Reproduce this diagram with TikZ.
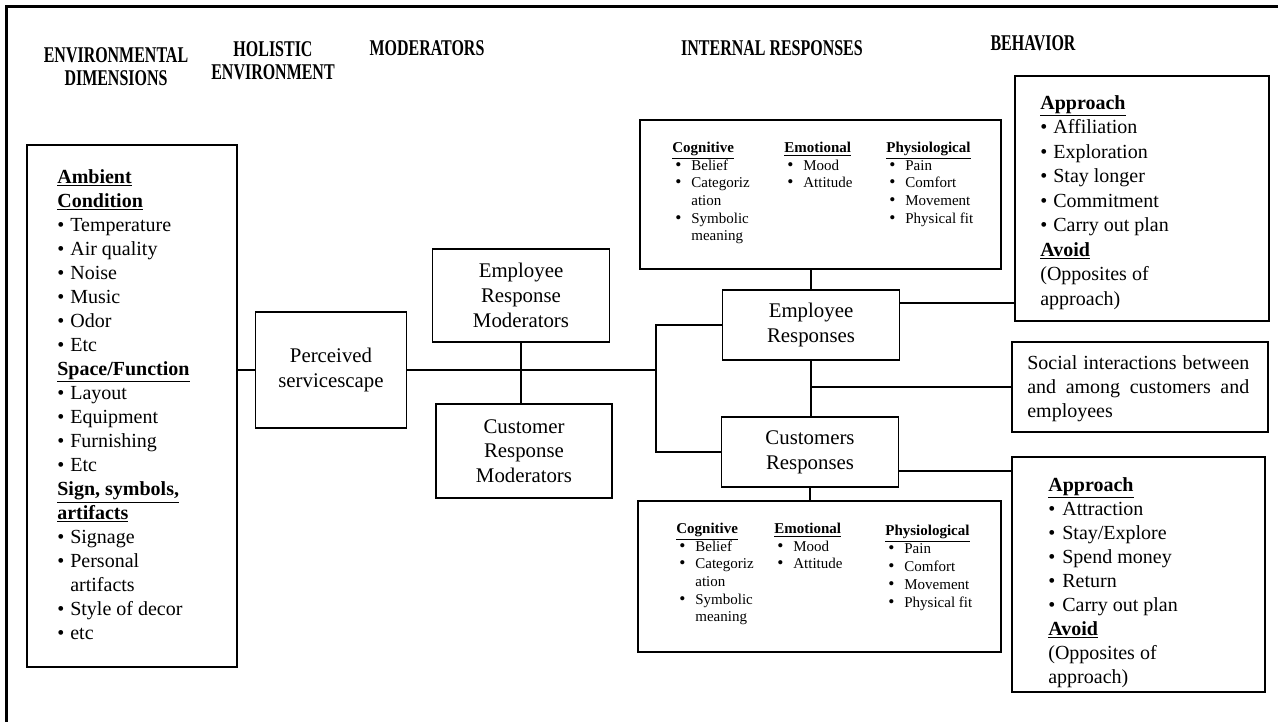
\documentclass[tikz,border=0pt]{standalone}
\usepackage{fontspec}
\setmainfont{Liberation Serif}
\usepackage{graphicx}
\usetikzlibrary{positioning}

\newdimen\px \px=0.6pt
\newcommand{\hd}[1]{\textbf{\underline{#1}}}
\newcommand{\itm}[1][13]{\makebox[#1\px][l]{\textbullet}}
\newcommand{\sitm}{\hspace*{3\px}\makebox[16\px][l]{\fontsize{10.5}{10.5}\selectfont\textbullet}}
\newcommand{\sgap}{\hspace*{19\px}}
\newcommand{\hw}[1]{\scalebox{0.71}[1]{#1}}

\tikzset{box/.style={draw, line width=0.7pt, inner sep=0pt}}
\tikzset{txtbox/.style={box, align=center, font=\fontsize{12.5}{14.8}\selectfont}}
\tikzset{listtxt/.style={anchor=north west, align=left, inner sep=0pt, font=\fontsize{12}{14.4}\selectfont}}
\tikzset{smalltxt/.style={anchor=north west, align=left, inner sep=0pt, font=\fontsize{9}{10.56}\selectfont}}
\tikzset{hdtxt/.style={align=center, inner sep=0pt, font=\fontsize{13.5}{13.8}\selectfont\bfseries}}
\tikzset{link/.style={line width=1.1pt}}
\tikzset{outline/.style={line width=1.8pt}}

\begin{document}
\begin{tikzpicture}[x=0.6pt, y=-0.6pt]

	  \useasboundingbox (0,0) rectangle (1278,722);
	  \draw [outline] (1278,6.5) -- (6.5,6.5) -- (6.5,722);

	  % column titles
	  \node [hdtxt] (tenv) at (116,66.5) {\hw{ENVIRONMENTAL}\\\hw{DIMENSIONS}};
	  \node [hdtxt] (thol) at (273,60.5) {\hw{HOLISTIC}\\\hw{ENVIRONMENT}};
	  \node [hdtxt] (tmod) at (427,48) {\hw{MODERATORS}};
	  \node [hdtxt] (tint) at (772,48) {\hw{INTERNAL RESPONSES}};
	  \node [hdtxt] (tbeh) at (1033,43) {\hw{BEHAVIOR}};

	  % environmental dimensions
	  \node [box, minimum width=210\px, minimum height=522\px] (envbox) at (132,406) {};
	  \node [listtxt] (envlist) at (57,169) {\hd{Ambient}\\ \hd{Condition}\\
	    \itm Temperature\\ \itm Air quality\\ \itm Noise\\ \itm Music\\ \itm Odor\\ \itm Etc\\
	    \hd{Space/Function}\\ \itm Layout\\ \itm Equipment\\ \itm Furnishing\\ \itm Etc\\
	    \hd{Sign, symbols,}\\ \hd{artifacts}\\ \itm Signage\\ \itm Personal\\ \hspace*{13\px}artifacts\\
	    \itm Style of decor\\ \itm etc};

	  % holistic environment and moderators
	  \node [txtbox, minimum width=151\px, minimum height=116\px] (perc) at (331,370) {Perceived\\servicescape};
	  \node [txtbox, minimum width=177\px, minimum height=93\px] (empmod) at (521,295.5) {Employee\\Response\\Moderators};
	  \node [txtbox, minimum width=176\px, minimum height=94\px] (cusmod) at (524,451) {Customer\\Response\\Moderators};

	  % internal responses
	  \node [txtbox, minimum width=177\px, minimum height=70\px] (empresp) at (811,325) {Employee\\Responses};
	  \node [txtbox, minimum width=177\px, minimum height=70\px] (cusresp) at (810,452) {Customers\\Responses};

	  \node [box, minimum width=361\px, minimum height=149\px] (inttop) at (820.5,194.5) {};
	  \node [smalltxt] (cogtop) at (672,142) {\hd{Cognitive}\\ \sitm Belief\\ \sitm Categoriz\\ \sgap ation\\ \sitm Symbolic\\ \sgap meaning};
	  \node [smalltxt] (emotop) at (784,142) {\hd{Emotional}\\ \sitm Mood\\ \sitm Attitude};
	  \node [smalltxt] (phytop) at (886,142) {\hd{Physiological}\\ \sitm Pain\\ \sitm Comfort\\ \sitm Movement\\ \sitm Physical fit};

	  \node [box, minimum width=363\px, minimum height=151\px] (intbot) at (819.5,576.5) {};
	  \node [smalltxt] (cogbot) at (676,523) {\hd{Cognitive}\\ \sitm Belief\\ \sitm Categoriz\\ \sgap ation\\ \sitm Symbolic\\ \sgap meaning};
	  \node [smalltxt] (emobot) at (774,523) {\hd{Emotional}\\ \sitm Mood\\ \sitm Attitude};
	  \node [smalltxt, font=\fontsize{9}{10.8}\selectfont] (phybot) at (885,525) {\hd{Physiological}\\ \sitm Pain\\ \sitm Comfort\\ \sitm Movement\\ \sitm Physical fit};

	  % behavior
	  \node [box, minimum width=254\px, minimum height=245\px] (behtop) at (1142,198.5) {};
	  \node [listtxt, font=\fontsize{12}{14.7}\selectfont] (apptop) at (1040,95) {\hd{Approach}\\
	    \itm Affiliation\\ \itm Exploration\\ \itm Stay longer\\ \itm Commitment\\ \itm Carry out plan\\
	    \hd{Avoid}\\ (Opposites of\\ approach)};

	  \node [box, minimum width=256\px, minimum height=90\px] (social) at (1140,387) {};
	  \node [listtxt, text width=222\px, align=justify] (socialtxt) at (1027,355) {Social interactions between and among customers and employees};

	  \node [box, minimum width=253\px, minimum height=235\px] (behbot) at (1138.5,574.5) {};
	  \node [listtxt] (appbot) at (1048,477) {\hd{Approach}\\
	    \itm[14]Attraction\\ \itm[14]Stay/Explore\\ \itm[14]Spend money\\ \itm[14]Return\\ \itm[14]Carry out plan\\
	    \hd{Avoid}\\ (Opposites of\\ approach)};

	  % connectors
	  \coordinate (split) at (656,370);
	  \draw [link] (perc.west) -- (perc.west -| envbox.east);
	  \draw [link] (perc.east) -- (split);
	  \draw [link] (empmod.south) -- (empmod.south |- cusmod.north);
	  \draw [link] (empresp.west) -| (split) |- (cusresp.west);
	  \draw [link] (empresp.north) -- (empresp.north |- inttop.south);
	  \draw [link] (empresp.south) -- (empresp.south |- cusresp.north);
	  \draw [link] (cusresp.south) -- (cusresp.south |- intbot.north);
	  \draw [link] (social.west) -- (social.west -| empresp.south);
	  \coordinate (erout) at ([yshift=22\px]empresp.east);
	  \draw [link] (erout) -- (erout -| behtop.west);
	  \coordinate (crout) at ([yshift=-19\px]cusresp.east);
	  \draw [link] (crout) -- (crout -| behbot.west);

\end{tikzpicture}
\end{document}
